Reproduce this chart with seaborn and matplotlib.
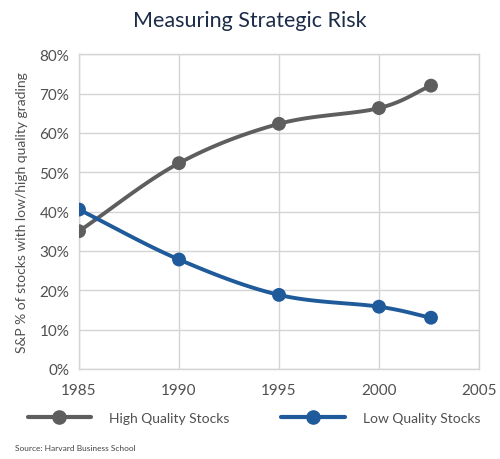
import matplotlib
matplotlib.use("Agg")
import matplotlib.pyplot as plt
import numpy as np
import pandas as pd
import seaborn as sns
from matplotlib.lines import Line2D
from matplotlib.ticker import PercentFormatter

# ── Data ────────────────────────────────────────────────────────────────────
years = [1985, 1990, 1995, 2000, 2002.6]
high_quality = [35.0, 52.3, 62.3, 66.3, 72.0]
low_quality = [40.5, 27.8, 18.8, 15.8, 13.0]
x_ticks = [1985, 1990, 1995, 2000, 2005]
y_ticks = [0, 10, 20, 30, 40, 50, 60, 70, 80]

GRAY = "#5e5e5e"
BLUE = "#1f5b9a"
TEXT = "#505050"

sns.set_theme(style="whitegrid")
plt.rcParams["font.family"] = ["Lato", "DejaVu Sans"]


def smooth(x, y, n=30):
    """Catmull-Rom curve through the points, for drawing only."""
    x = np.asarray(x, float)
    y = np.asarray(y, float)
    px = np.r_[2 * x[0] - x[1], x, 2 * x[-1] - x[-2]]
    py = np.r_[2 * y[0] - y[1], y, 2 * y[-1] - y[-2]]
    xs, ys = [], []
    t = np.linspace(0, 1, n)
    for i in range(1, len(px) - 2):
        for arr, out in ((px, xs), (py, ys)):
            p0, p1, p2, p3 = arr[i - 1:i + 3]
            out.extend(0.5 * (2 * p1 + (-p0 + p2) * t
                              + (2 * p0 - 5 * p1 + 4 * p2 - p3) * t ** 2
                              + (-p0 + 3 * p1 - 3 * p2 + p3) * t ** 3))
    return np.array(xs), np.array(ys)


fig = plt.figure(figsize=(5, 4.6), dpi=100)
ax = fig.add_axes([0.158, 0.196, 0.80, 0.684])

for vals, color in ((high_quality, GRAY), (low_quality, BLUE)):
    sx, sy = smooth(years, vals)
    sns.lineplot(x=sx, y=sy, ax=ax, color=color, linewidth=2.8, sort=False)
    sns.scatterplot(x=years, y=vals, ax=ax, color=color, s=100,
                    edgecolor="none", zorder=5)

ax.set_xlim(1985, 2005)
ax.set_ylim(0, 80)
ax.set_xticks(x_ticks)
ax.set_yticks(y_ticks)
ax.yaxis.set_major_formatter(PercentFormatter(decimals=0))
ax.tick_params(colors=TEXT, labelsize=11, length=0)
ax.tick_params(axis="x", pad=10)
ax.tick_params(axis="y", pad=7)
ax.grid(True, color="#d4d4d4", linewidth=1)
for s in ax.spines.values():
    s.set_color("#d4d4d4")
    s.set_linewidth(1)
ax.set_ylabel("S&P % of stocks with low/high quality grading",
              color=TEXT, fontsize=10, labelpad=8)
ax.set_xlabel("")

fig.text(0.5, 0.955, "Measuring Strategic Risk", ha="center", va="center",
         fontsize=15.5, color="#1b2b48")

handles = [
    Line2D([], [], color=GRAY, linewidth=3, marker="o", markersize=9.5),
    Line2D([], [], color=BLUE, linewidth=3, marker="o", markersize=9.5),
]
fig.legend(handles, ["High Quality Stocks", "Low Quality Stocks"],
           loc="center left", bbox_to_anchor=(0.03, 0.089), ncol=2,
           frameon=False, handlelength=4.6, handletextpad=1.3,
           columnspacing=3.7, fontsize=10, labelcolor=TEXT)

fig.text(0.03, 0.025, "Source: Harvard Business School", fontsize=6,
         color="#444444", va="center")

fig.savefig("out.png", dpi=100)
